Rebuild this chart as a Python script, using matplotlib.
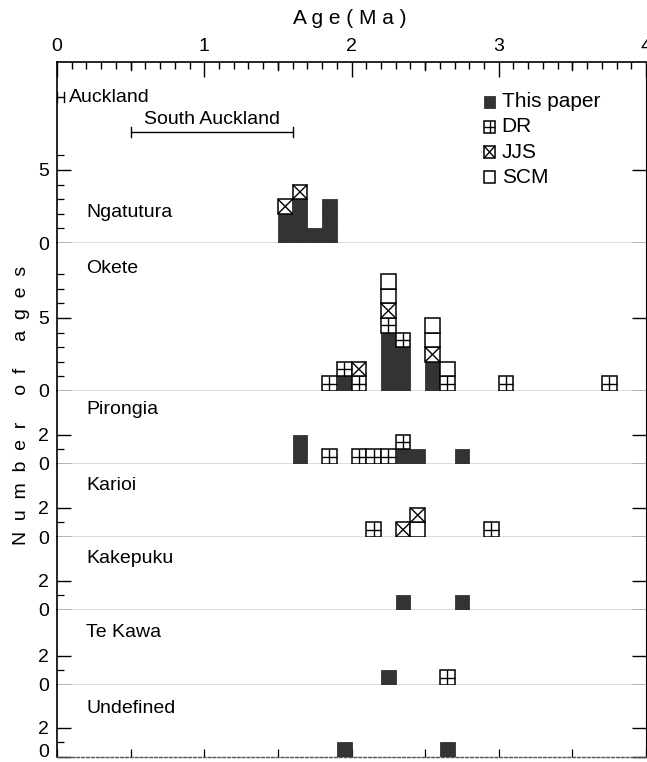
import matplotlib
matplotlib.use("Agg")
import matplotlib.pyplot as plt
from matplotlib.ticker import MultipleLocator, FixedLocator, FixedFormatter

plt.rcParams['font.family'] = ['Liberation Sans', 'DejaVu Sans']

# -----------------------------
# Data: bin start (Ma, 0.1 wide) and stacked cells, bottom to top
# T = This paper, D = DR, J = JJS, S = SCM
# -----------------------------
panel_names = ["Ngatutura", "Okete", "Pirongia", "Karioi", "Kakepuku", "Te Kawa", "Undefined"]

ngatutura_bins = [1.5, 1.6, 1.7, 1.8]
ngatutura_stacks = ["TTJ", "TTTJ", "T", "TTT"]

okete_bins = [1.8, 1.9, 2.0, 2.2, 2.3, 2.5, 2.6, 3.0, 3.7]
okete_stacks = ["D", "TD", "DJ", "TTTTDJSS", "TTTD", "TTJSS", "DS", "D", "D"]

pirongia_bins = [1.6, 1.8, 2.0, 2.1, 2.2, 2.3, 2.4, 2.7]
pirongia_stacks = ["TT", "D", "D", "D", "D", "TD", "T", "T"]

karioi_bins = [2.1, 2.3, 2.4, 2.9]
karioi_stacks = ["D", "J", "SJ", "D"]

kakepuku_bins = [2.3, 2.7]
kakepuku_stacks = ["T", "T"]

tekawa_bins = [2.2, 2.6]
tekawa_stacks = ["T", "D"]

undefined_bins = [1.9, 2.6]
undefined_stacks = ["T", "T"]

panel_bins = [ngatutura_bins, okete_bins, pirongia_bins, karioi_bins,
              kakepuku_bins, tekawa_bins, undefined_bins]
panel_stacks = [ngatutura_stacks, okete_stacks, pirongia_stacks, karioi_stacks,
                kakepuku_stacks, tekawa_stacks, undefined_stacks]

# age ranges of other volcanic fields (Ma)
range_names = ["Auckland", "South Auckland"]
range_start = [0.0, 0.5]
range_end = [0.05, 1.6]

legend_codes = ["T", "D", "J", "S"]
legend_labels = ["This paper", "DR", "JJS", "SCM"]

# -----------------------------
# Layout (pixels of the reference)
# -----------------------------
W, H = 647, 762
px_per_count = 14.6
panel_px = [181, 148, 73, 73, 73, 75, 72]
major_step = [5, 5, 2, 2, 2, 2, 2]
minor_max = [6, 8, 1, 1, 1, 1, 1]
label_y = [2.1, 8.4, 3.7, 3.55, 3.55, 3.6, 3.3]
bin_w = 0.1
dark = "#333333"
fs = 14

fig = plt.figure(figsize=(W / 100, H / 100), dpi=100)
gs = fig.add_gridspec(len(panel_px), 1, height_ratios=panel_px, hspace=0,
                      left=57 / W, right=646 / W, top=1 - 62 / H, bottom=1 - 757 / H)
axes = [fig.add_subplot(gs[i]) for i in range(len(panel_px))]


def draw_cell(ax, x, y, code, w=bin_w, h=1.0):
    if code == "T":
        ax.bar(x, h, w, bottom=y, align='edge', color=dark, edgecolor=dark,
               linewidth=0.6, zorder=3)
        return
    ax.bar(x, h, w, bottom=y, align='edge', color='white', edgecolor='black',
           linewidth=1.1, zorder=3)
    lk = dict(color='black', linewidth=1.0, zorder=4, solid_capstyle='butt')
    if code == "D":
        ax.plot([x + w / 2, x + w / 2], [y, y + h], **lk)
        ax.plot([x, x + w], [y + h / 2, y + h / 2], **lk)
    elif code == "J":
        ax.plot([x, x + w], [y, y + h], **lk)
        ax.plot([x, x + w], [y + h, y], **lk)


for i, ax in enumerate(axes):
    top = panel_px[i] / px_per_count
    ax.set_xlim(0, 4)
    ax.set_ylim(0, top)
    for x0, stack in zip(panel_bins[i], panel_stacks[i]):
        for level, code in enumerate(stack):
            draw_cell(ax, x0, level, code)

    ax.text(0.2, label_y[i], panel_names[i], fontsize=fs, va='center', ha='left')

    # y ticks
    step = major_step[i]
    ax.yaxis.set_major_locator(FixedLocator([0, step]))
    ax.yaxis.set_minor_locator(FixedLocator([v for v in range(1, minor_max[i] + 1)
                                             if v != step]))
    ax.tick_params(axis='y', which='major', direction='in', length=10, width=1.0,
                   labelsize=fs, pad=6, right=True)
    ax.tick_params(axis='y', which='minor', direction='in', length=5, width=0.9)

    ax.spines['left'].set_linewidth(1.2)
    ax.spines['right'].set_linewidth(0.8)
    ax.spines['bottom'].set_color('#555555')
    ax.spines['bottom'].set_linewidth(1.0)
    if i > 0:
        ax.spines['top'].set_visible(False)
    if i < len(axes) - 1:
        ax.tick_params(axis='x', which='both', bottom=False, top=False,
                       labelbottom=False, labeltop=False)

# top axis: ticks on top of first panel
ax0 = axes[0]
ax0.spines['top'].set_linewidth(1.2)
ax0.xaxis.set_ticks_position('top')
ax0.xaxis.set_major_locator(MultipleLocator(1))
ax0.xaxis.set_minor_locator(MultipleLocator(0.1))
ax0.tick_params(axis='x', which='major', top=True, bottom=False, labeltop=True,
                labelbottom=False, direction='in', length=11, width=1.0,
                labelsize=fs, pad=5)
ax0.tick_params(axis='x', which='minor', top=True, bottom=False, direction='in',
                length=5, width=1.0)
# medium ticks at half Ma
for xm in [0.5, 1.5, 2.5, 3.5]:
    ax0.plot([xm, xm], [ax0.get_ylim()[1], ax0.get_ylim()[1] - 0.55], color='black',
             linewidth=1.0, zorder=2)

# bottom axis of last panel
axl = axes[-1]
axl.xaxis.set_major_locator(MultipleLocator(0.5))
axl.tick_params(axis='x', which='major', bottom=True, top=False, labelbottom=False,
                direction='in', length=6, width=0.9)
axl.spines['bottom'].set_linestyle((0, (2, 1.5)))
# zero label of the last panel sits at the figure edge: nudge it up a little
axl.yaxis.set_major_formatter(FixedFormatter(["", "2"]))
axl.annotate("0", xy=(0, 0), xycoords=('axes fraction', 'data'), xytext=(-6, 3),
             textcoords='offset points', ha='right', va='center', fontsize=fs,
             annotation_clip=False)

# age ranges of other fields
range_y = [10.0, 7.6]
for name, s, e, ry in zip(range_names, range_start, range_end, range_y):
    ax0.plot([s, e], [ry, ry], color='black', linewidth=1.0)
    ax0.plot([s, s], [ry - 0.35, ry + 0.35], color='black', linewidth=1.0)
    ax0.plot([e, e], [ry - 0.35, ry + 0.35], color='black', linewidth=1.0)
ax0.text(range_end[0] + 0.03, range_y[0], range_names[0], fontsize=fs,
         va='center', ha='left')
ax0.text((range_start[1] + range_end[1]) / 2, range_y[1] + 0.3, range_names[1],
         fontsize=fs, va='bottom', ha='center')

# legend
leg_y = [9.66, 7.95, 6.23, 4.52]
for code, lab, ly in zip(legend_codes, legend_labels, leg_y):
    draw_cell(ax0, 2.9, ly - 0.42, code, w=0.075, h=0.84)
    ax0.text(3.02, ly, lab, fontsize=fs + 1, va='center', ha='left')

fig.text(350 / W, 1 - 18 / H, "A g e ( M a )", fontsize=fs + 1, ha='center', va='center')
fig.text(22 / W, 1 - 405 / H, "N  u  m  b  e  r     o  f     a  g  e  s", fontsize=fs,
         rotation=90, ha='center', va='center')

fig.savefig("out.png", dpi=100)
